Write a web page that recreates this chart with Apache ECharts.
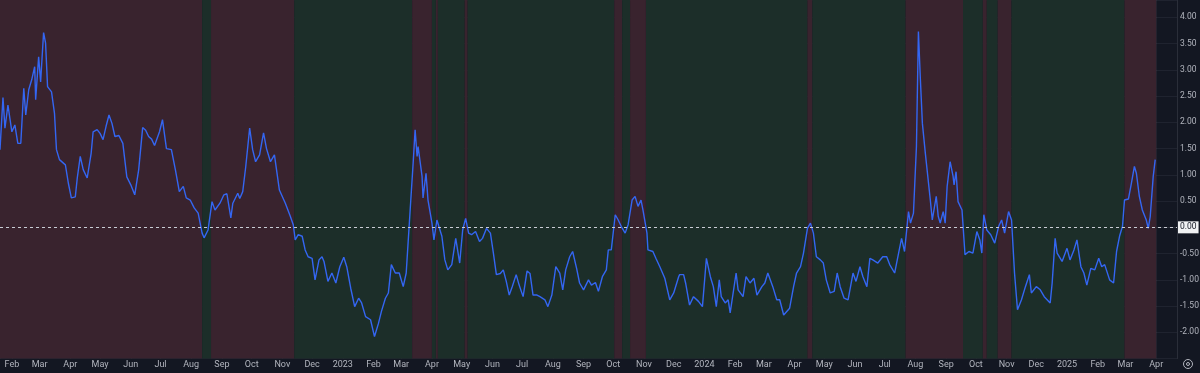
<!DOCTYPE html>
<html>
<head>
<meta charset="utf-8">
<script src="https://cdn.jsdelivr.net/npm/echarts@6/dist/echarts.min.js"></script>
<style>
html,body{margin:0;padding:0;background:#131722;}
#chart{width:1200px;height:373px;}
</style>
</head>
<body>
<div id="chart"></div>
<script>
// ---------- DATA ----------
const START_DATE = [2022, 0, 20];          // day 0 of the observation day counts
const AXIS_MIN = '2022-01-20';
const AXIS_MAX = '2025-04-22';
const monthLabels = ['Jan','Feb','Mar','Apr','May','Jun','Jul','Aug','Sep','Oct','Nov','Dec'];

// regime background: boundaries and the kind of each interval between them
const regimeBreaks = ['2022-01-20','2022-08-12','2022-08-21','2022-11-13','2023-03-12','2023-04-01',
  '2023-04-05','2023-04-07','2023-05-04','2023-05-07','2023-10-02','2023-10-10','2023-10-18',
  '2023-11-03','2024-04-14','2024-04-19','2024-07-22','2024-09-18','2024-10-08','2024-10-12',
  '2024-10-23','2024-11-06','2025-02-28','2025-04-01'];
const regimeKinds = ['off','on','off','on','off','on','off','on','off','on','off','on','off',
  'on','off','on','off','on','off','on','off','on','off'];

// observations: [day since start, value]
const obs2022 = [[0,1.48],[3,2.47],[5,1.89],[8,2.33],[12,1.82],[15,1.95],[18,1.60],[21,1.60],[24,2.65],[26,2.14],
  [29,2.62],[32,2.81],[35,3.06],[36,2.43],[39,3.25],[41,2.77],[44,3.71],[46,3.51],[48,2.68],[52,2.58],
  [55,2.17],[57,1.48],[60,1.29],[66,1.19],[69,0.84],[72,0.56],[76,0.58],[78,0.94],[81,1.35],[84,1.10],
  [88,0.94],[92,1.41],[94,1.82],[98,1.86],[101,1.79],[104,1.67],[107,1.92],[110,2.14],[113,1.98],[116,1.73],
  [120,1.75],[124,1.60],[128,0.96],[132,0.81],[136,0.62],[140,1.10],[144,1.90],[147,1.85],[150,1.73],[153,1.68],
  [156,1.56],[161,1.82],[164,2.05],[168,1.50],[173,1.48],[177,1.10],[181,0.68],[185,0.78],[188,0.56],[192,0.52],
  [196,0.37],[200,0.27],[204,-0.11],[206,-0.20],[210,-0.05],[214,0.49],[217,0.33],[222,0.46],[226,0.62],[229,0.64],
  [233,0.18],[235,0.46],[240,0.65],[242,0.55],[245,0.68],[248,1.15],[252,1.89],[255,1.48],[258,1.25],[262,1.38],
  [266,1.80],[269,1.50],[273,1.25],[277,1.38],[282,0.71]];
const obs2023 = [[288,0.46],[293,0.21],[296,0.05],[298,-0.24],[301,-0.14],[305,-0.17],[308,-0.43],[311,-0.56],
  [315,-0.59],[318,-1.00],[322,-0.62],[325,-0.56],[327,-0.65],[331,-1.03],[335,-0.87],[339,-1.06],[343,-0.75],
  [347,-0.57],[350,-0.75],[354,-1.16],[358,-1.51],[362,-1.35],[365,-1.44],[369,-1.70],[374,-1.76],[378,-2.08],
  [382,-1.83],[385,-1.60],[389,-1.35],[392,-1.25],[395,-0.71],[399,-0.87],[403,-0.87],[407,-1.13],[410,-0.87],
  [414,0.33],[417,1.22],[419,1.86],[421,1.35],[422,1.54],[426,0.97],[427,0.56],[430,1.03],[432,0.52],[436,0.08],
  [438,-0.24],[441,0.14],[446,-0.17],[449,-0.62],[452,-0.81],[456,-0.71],[460,-0.21],[464,-0.68],[467,-0.05],
  [470,0.17],[473,-0.11],[476,-0.14],[480,-0.08],[484,-0.27],[487,-0.21],[491,-0.02],[495,-0.11],[498,-0.49],
  [501,-0.90],[505,-0.88],[508,-0.81],[511,-1.03],[514,-1.29],[517,-1.13],[521,-0.90],[524,-1.10],[528,-1.32],
  [532,-0.83],[535,-0.88],[538,-1.29],[542,-1.29],[545,-1.32],[550,-1.38],[553,-1.51],[557,-1.29],[561,-0.75],
  [565,-0.87],[568,-1.19],[571,-0.81],[575,-0.56],[578,-0.46],[582,-0.78],[585,-1.06],[589,-1.19],[594,-1.00],
  [597,-1.10],[601,-1.05],[604,-1.22],[608,-0.94],[612,-0.81],[614,-0.43],[617,-0.43],[621,0.24],[624,0.14],
  [627,0.02],[631,-0.11],[634,0.05],[638,0.52],[641,0.59],[644,0.40],[647,0.52],[649,0.33],[653,-0.11],
  [654,-0.43],[659,-0.46],[662,-0.59],[666,-0.75],[671,-0.97],[676,-1.38],[680,-1.25],[685,-0.94]];
const obs2024 = [[686,-0.90],[690,-0.90],[692,-1.06],[696,-1.48],[700,-1.32],[705,-1.41],[709,-1.51],[713,-0.59],
  [717,-0.94],[720,-1.13],[723,-1.51],[726,-1.00],[728,-1.32],[732,-1.44],[735,-1.38],[737,-1.63],[743,-0.87],
  [745,-1.19],[750,-1.32],[753,-0.94],[757,-1.06],[761,-0.97],[764,-1.29],[769,-1.13],[772,-1.06],[775,-0.87],
  [780,-1.13],[784,-1.38],[787,-1.38],[791,-1.67],[793,-1.70],[797,-1.54],[801,-1.13],[804,-0.87],[808,-0.75],
  [811,-0.49],[815,-0.02],[818,0.08],[821,-0.11],[824,-0.56],[828,-0.62],[831,-0.68],[834,-1.00],[838,-1.25],
  [842,-1.22],[845,-0.87],[848,-1.13],[852,-1.35],[856,-1.38],[861,-0.87],[864,-1.03],[868,-0.75],[871,-0.94],
  [875,-1.13],[878,-0.59],[881,-0.62],[886,-0.68],[891,-0.56],[895,-0.56],[898,-0.71],[903,-0.87],[907,-0.49],
  [910,-0.21],[913,-0.46],[917,0.30],[919,0.08],[922,0.27],[925,1.54],[927,3.73],[929,2.81],[931,1.98],
  [934,1.41],[936,1.44],[939,0.52],[941,0.14],[945,0.59],[947,0.21],[949,0.08],[952,0.30],[954,0.08],
  [956,0.78],[959,1.25],[962,0.97],[963,0.81],[965,1.06],[967,0.49],[971,0.33],[974,-0.52],[978,-0.46],
  [982,-0.49],[986,-0.08],[989,-0.24],[991,-0.49],[993,0.24],[996,-0.05],[1000,-0.14],[1004,-0.30],[1008,0.02],
  [1011,0.14],[1014,-0.11],[1018,0.30],[1021,0.14],[1024,-0.87],[1027,-1.57],[1031,-1.38],[1035,-1.13],
  [1039,-0.90],[1041,-1.25],[1046,-1.13],[1050,-1.19],[1054,-1.32],[1056,-1.29],[1060,-1.44],[1062,-1.06],
  [1065,-0.21],[1067,-0.49],[1072,-0.65]];
const obs2025 = [[1077,-0.40],[1080,-0.62],[1084,-0.43],[1087,-0.24],[1091,-0.75],[1094,-0.87],[1097,-1.10],
  [1101,-0.78],[1105,-0.81],[1109,-0.59],[1112,-0.75],[1115,-0.71],[1120,-1.00],[1124,-1.06],[1127,-0.46],
  [1130,-0.17],[1133,0.02],[1135,0.52],[1139,0.54],[1142,0.84],[1145,1.16],[1147,1.03],[1150,0.59],[1153,0.33],
  [1157,0.14],[1159,-0.02],[1161,0.21],[1164,0.97],[1166,1.29]];

// ---------- CHART ----------
const RED_BAND = '#39232e';
const GREEN_BAND = '#1c2e29';
const TEXT = '#b2b5be';
const GRID_LINE = 'rgba(240,243,250,0.06)';
const DAY = 86400000;

function dayToTime(d) {
  return new Date(START_DATE[0], START_DATE[1], START_DATE[2] + d).getTime();
}
const lineData = [].concat(obs2022, obs2023, obs2024, obs2025).map(p => [dayToTime(p[0]), p[1]]);

const areas = regimeKinds.map((k, i) => [
  { xAxis: regimeBreaks[i], itemStyle: { color: k === 'off' ? RED_BAND : GREEN_BAND } },
  { xAxis: regimeBreaks[i + 1] }
]);

function fmtNum(v) {
  const s = Math.abs(v).toFixed(2);
  return v < 0 ? '-' + s : s;
}

const chart = echarts.init(document.getElementById('chart'), null, { renderer: 'canvas' });
chart.setOption({
  backgroundColor: '#131722',
  animation: false,
  textStyle: { fontFamily: 'Roboto, "Liberation Sans", sans-serif' },
  grid: { left: 0, right: 23, top: 0, bottom: 14.4, containLabel: false, outerBoundsMode: 'none' },
  xAxis: {
    type: 'time',
    min: AXIS_MIN,
    max: AXIS_MAX,
    minInterval: 28 * DAY,
    maxInterval: 31 * DAY,
    splitNumber: 40,
    axisLine: { show: true, lineStyle: { color: '#2a2e39' } },
    axisTick: { show: false },
    axisLabel: {
      color: TEXT, fontSize: 9, margin: 1.5,
      showMinLabel: false, showMaxLabel: false, hideOverlap: false,
      formatter: function (v) {
        const d = new Date(v);
        if (d.getDate() !== 1) return '';
        return d.getMonth() === 0 ? String(d.getFullYear()) : monthLabels[d.getMonth()];
      }
    },
    splitLine: { show: true, lineStyle: { color: GRID_LINE, width: 1 } }
  },
  yAxis: {
    type: 'value',
    position: 'right',
    min: -2.5,
    max: 4.33,
    interval: 0.5,
    axisLine: { show: true, lineStyle: { color: '#2a2e39' } },
    axisTick: { show: false },
    axisLabel: {
      color: TEXT, fontSize: 8.5, margin: 3,
      formatter: function (v) {
        if (Math.abs(v * 2 - Math.round(v * 2)) > 1e-6) return '';
        if (v < -2.2 || Math.abs(v) < 1e-9) return '';
        return fmtNum(v);
      }
    },
    splitLine: { show: true, lineStyle: { color: GRID_LINE, width: 1 } }
  },
  series: [
    {
      name: 'regime',
      type: 'line',
      z: 1,
      data: [],
      silent: true,
      markArea: { silent: true, data: areas }
    },
    {
      name: 'indicator',
      type: 'line',
      z: 3,
      data: lineData,
      showSymbol: false,
      symbol: 'none',
      lineStyle: { color: '#3466f2', width: 1.4 },
      markLine: {
        silent: true,
        symbol: 'none',
        data: [{ yAxis: 0 }],
        lineStyle: { color: '#c9ccd4', type: [3, 3], width: 1 },
        label: {
          show: true, position: 'end', distance: 1,
          formatter: function () { return fmtNum(0); },
          backgroundColor: '#f0f1f3', color: '#131722', fontSize: 8.5,
          padding: [2, 2, 1, 2]
        }
      }
    }
  ],
  graphic: [
    { type: 'circle', shape: { cx: 1188, cy: 364, r: 4.5 }, style: { fill: 'none', stroke: TEXT, lineWidth: 1 } },
    { type: 'circle', shape: { cx: 1188, cy: 364, r: 1.5 }, style: { fill: 'none', stroke: TEXT, lineWidth: 1 } }
  ]
});
</script>
</body>
</html>
